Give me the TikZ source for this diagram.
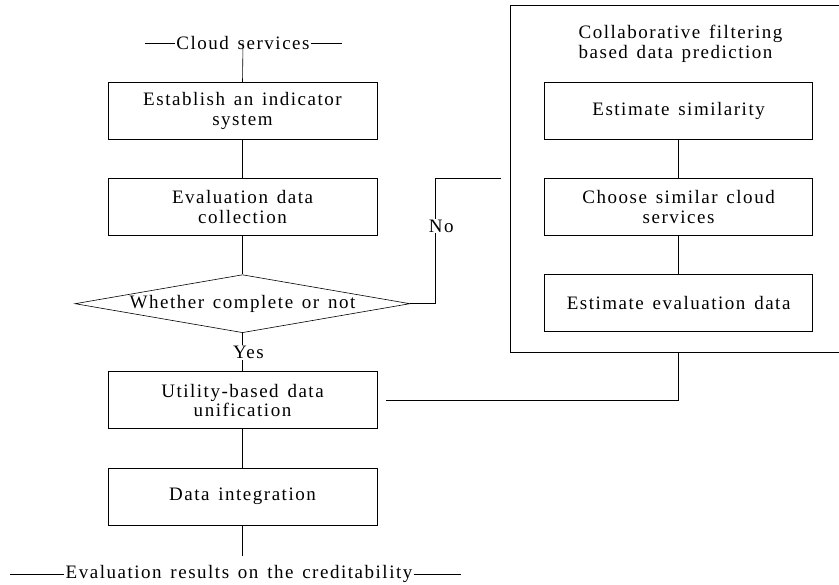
\documentclass[tikz,border=0pt]{standalone}
\usepackage{fontspec}
\setmainfont{Liberation Serif}[LetterSpace=8, WordSpace=1.4]
\usetikzlibrary{positioning,shapes.geometric}

\begin{document}
\begin{tikzpicture}[x=1pt, y=-1pt, node distance=38.5pt, line width=0.6pt,
  every node/.style={font=\fontsize{19}{19.5}\selectfont},
  stage/.style={draw, rectangle, minimum width=269pt, minimum height=57pt, align=center, inner sep=2pt},
  check/.style={draw, diamond, aspect=5.8, minimum width=335pt, minimum height=58pt, inner sep=0pt},
  term/.style={inner sep=1pt},
  tag/.style={fill=white, inner sep=1pt, xshift=6pt}]
  \useasboundingbox (0,0) rectangle (839,585);
  % main flow
  \node[term] (cloud) at (243,43) {Cloud services};
  \node[stage] (est) at (242.5,111) {Establish an indicator\\system};
  \node[stage] (coll) [below=of est] {Evaluation data\\collection};
  \node[check] (dec) [below=of coll] {Whether complete or not};
  \node[stage] (util) [below=of dec] {Utility-based data\\unification};
  \node[stage] (integ) [below=of util] {Data integration};
  \node[term] (res) at (239,574) {Evaluation results on the creditability};
  % prediction block
  \node[draw, minimum width=336pt, minimum height=347pt] (cf) at (678,178.5) {};
  \node[align=left, anchor=west] (cftitle) at (575,44) {Collaborative filtering\\based data prediction};
  \node[stage, minimum width=268pt] (sim) [right=167pt of est] {Estimate similarity};
  \node[stage, minimum width=268pt] (choose) [below=of sim] {Choose similar cloud\\services};
  \node[stage, minimum width=268pt] (estd) [below=of choose] {Estimate evaluation data};
  % free ends
  \coordinate (cloudL) at (145,43);
  \coordinate (cloudR) at (342,43);
  \coordinate (resL) at (10,574);
  \coordinate (resR) at (461,574);
  \coordinate (nobend) at ([xshift=25pt]dec.east);
  \coordinate (noend) at ([xshift=-9pt]cf.west |- choose.north);
  \coordinate (mergeend) at ([xshift=9pt]util.east);
  % connectors
  \draw (cloudL) -- (cloud.west) (cloud.east) -- (cloudR);
  \draw (cloud.center) -- (est.north);
  \draw (est) -- (coll);
  \draw (coll) -- (dec);
  \draw (dec) -- node[tag] {Yes} (util);
  \draw (util) -- (integ);
  \draw[shorten >=8pt] (integ.south) -- (integ.south |- res.north);
  \draw (resL) -- (res.west) (res.east) -- (resR);
  \draw (sim) -- (choose);
  \draw (choose) -- (estd);
  \draw (dec.east) -- (nobend) -- node[tag, pos=0.62] {No} (nobend |- noend) -- (noend);
  \draw (estd |- cf.south) |- (mergeend);
\end{tikzpicture}
\end{document}
